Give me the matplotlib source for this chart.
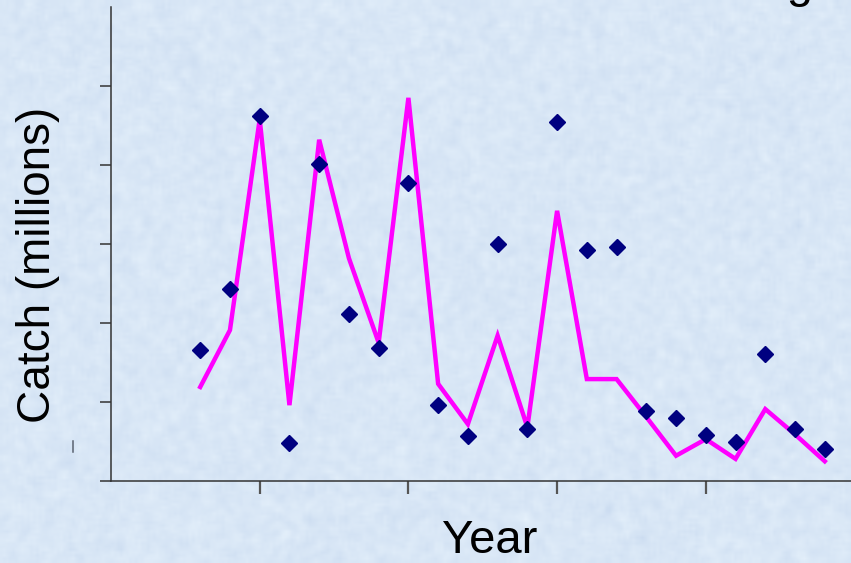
import numpy as np
import matplotlib
matplotlib.use('Agg')
import matplotlib.pyplot as plt
from matplotlib.lines import Line2D

plt.rcParams['font.family'] = ['Liberation Sans', 'DejaVu Sans']

# catch per year: observed (points) and model fit (line), millions
years = list(range(1978, 2000))
observed = [1.66, 2.43, 4.62, 0.48, 4.01, 2.11, 1.68, 3.77, 0.96, 0.57, 3.00,
            0.66, 4.54, 2.92, 2.96, 0.89, 0.80, 0.58, 0.49, 1.61, 0.66, 0.41]
fitted = [1.19, 1.91, 4.58, 0.96, 4.32, 2.82, 1.75, 4.85, 1.23, 0.72, 1.84,
          0.68, 3.42, 1.29, 1.29, 0.81, 0.32, 0.53, 0.28, 0.91, 0.59, 0.25]
xticks = [1980, 1985, 1990, 1995]
yticks = [0, 1, 2, 3, 4, 5]

fig = plt.figure(figsize=(8.51, 5.63), dpi=100)

# pale blue paper-like backdrop
bg = fig.add_axes([0, 0, 1, 1], zorder=-10)
rng = np.random.default_rng(3)
noise = rng.normal(0, 1, (188, 284))
k = np.ones(3) / 3
noise = np.apply_along_axis(lambda r: np.convolve(r, k, mode='same'), 1, noise)
noise = np.apply_along_axis(lambda c: np.convolve(c, k, mode='same'), 0, noise)
base = np.array([0.850, 0.905, 0.965])
tex = base[None, None, :] + 0.032 * noise[:, :, None] * np.array([1.0, 0.8, 0.4])
bg.imshow(np.clip(tex, 0, 1), aspect='auto', interpolation='bilinear')
bg.axis('off')

ax = fig.add_axes([111 / 851, 82 / 563, 743.5 / 851, 474 / 563])
ax.patch.set_alpha(0)

ax.plot(years, fitted, color='#ff00ff', lw=3.2, solid_joinstyle='miter', zorder=2)
ax.plot(years, observed, ls='none', marker='D', ms=8, color='#000080', zorder=3)

ax.set_xlim(1975, 2000)
ax.set_ylim(0, 6)
ax.set_xticks(xticks)
ax.set_yticks(yticks)
ax.set_xticklabels([])
ax.set_yticklabels([])
ax.tick_params(axis='y', direction='out', length=8, width=1.1, color='#333333')
ax.tick_params(axis='x', direction='out', length=9, width=1.6, color='#555555')
for s in ['top', 'right']:
    ax.spines[s].set_visible(False)
for s in ['left', 'bottom']:
    ax.spines[s].set_color('#333333')
    ax.spines[s].set_linewidth(1.1)

fig.text(38 / 851, 1 - 265 / 563, 'Catch (millions)', rotation=90,
         ha='center', va='center', fontsize=33)
fig.text(490 / 851, 1 - 553 / 563, 'Year', ha='center', va='baseline', fontsize=34)
fig.text(813 / 851, 1 + 3 / 563, 'Catch modeling', ha='right', va='baseline', fontsize=34)

fig.add_artist(Line2D([73 / 851, 73 / 851], [1 - 441 / 563, 1 - 452 / 563],
                      color='#5a6270', lw=1.1))

fig.savefig('out.png', dpi=100)
